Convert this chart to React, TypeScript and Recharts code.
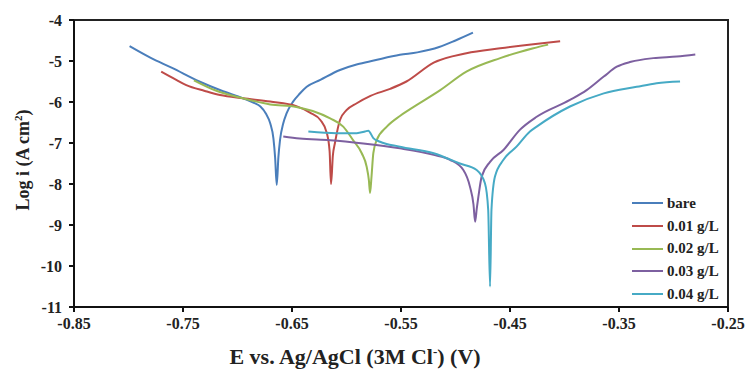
import React from "react";
import {
  LineChart, Line, XAxis, YAxis, Label, ReferenceArea,
} from "recharts";

// potential (V vs Ag/AgCl) and log current density for each coating
const bareE = [-0.799, -0.78, -0.76, -0.735, -0.715, -0.695, -0.685, -0.679, -0.674, -0.67, -0.667, -0.6655, -0.664, -0.6625, -0.661, -0.658, -0.655, -0.649, -0.643, -0.6365, -0.624, -0.606, -0.59, -0.575, -0.551, -0.535, -0.515, -0.5, -0.484];
const bareLogI = [-4.64, -4.92, -5.17, -5.5, -5.72, -5.91, -6.02, -6.11, -6.28, -6.52, -6.9, -7.35, -8.02, -7.35, -6.93, -6.52, -6.28, -5.99, -5.8, -5.63, -5.46, -5.22, -5.08, -4.99, -4.85, -4.79, -4.66, -4.5, -4.31];

const c01E = [-0.77, -0.757, -0.747, -0.73, -0.716, -0.695, -0.67, -0.646, -0.6335, -0.624, -0.618, -0.6155, -0.6142, -0.6125, -0.6106, -0.606, -0.6, -0.5906, -0.578, -0.56, -0.545, -0.52, -0.49, -0.459, -0.4286, -0.404];
const c01LogI = [-5.26, -5.45, -5.59, -5.73, -5.83, -5.91, -5.99, -6.1, -6.26, -6.44, -6.76, -7.2, -8.0, -7.3, -7.0, -6.44, -6.2, -6.03, -5.85, -5.68, -5.5, -5.04, -4.81, -4.69, -4.59, -4.52];

const c02E = [-0.74, -0.72, -0.695, -0.67, -0.646, -0.631, -0.615, -0.603, -0.594, -0.586, -0.5815, -0.5795, -0.5784, -0.577, -0.5754, -0.5723, -0.563, -0.551, -0.542, -0.514, -0.49, -0.459, -0.4286, -0.415];
const c02LogI = [-5.47, -5.72, -5.91, -6.06, -6.12, -6.22, -6.4, -6.6, -6.93, -7.25, -7.58, -7.9, -8.22, -7.8, -7.25, -6.93, -6.6, -6.34, -6.18, -5.71, -5.26, -4.93, -4.69, -4.6];

const c03E = [-0.658, -0.643, -0.615, -0.5846, -0.551, -0.52, -0.505, -0.4928, -0.4867, -0.4835, -0.482, -0.4805, -0.479, -0.476, -0.4683, -0.456, -0.441, -0.4255, -0.395, -0.3797, -0.364, -0.352, -0.339, -0.3185, -0.297, -0.28];
const c03LogI = [-6.84, -6.89, -6.93, -7.01, -7.13, -7.29, -7.41, -7.66, -8.07, -8.5, -8.92, -8.6, -8.31, -7.82, -7.46, -7.17, -6.68, -6.36, -5.95, -5.71, -5.38, -5.14, -5.02, -4.93, -4.89, -4.84];

const c04E = [-0.635, -0.609, -0.5906, -0.583, -0.58, -0.5754, -0.5693, -0.551, -0.52, -0.496, -0.4806, -0.473, -0.47, -0.4683, -0.467, -0.4638, -0.456, -0.444, -0.4317, -0.4255, -0.395, -0.364, -0.3338, -0.3155, -0.294];
const c04LogI = [-6.72, -6.76, -6.76, -6.72, -6.7, -6.88, -6.97, -7.09, -7.25, -7.5, -7.66, -7.98, -8.63, -10.5, -8.63, -7.82, -7.41, -7.09, -6.72, -6.6, -6.11, -5.79, -5.63, -5.54, -5.5];

const xTicks = [-0.85, -0.75, -0.65, -0.55, -0.45, -0.35, -0.25];
const yTicks = [-11, -10, -9, -8, -7, -6, -5, -4];

const toPoints = (e: number[], logI: number[]) => e.map((x, i) => ({ x, y: logI[i] }));

const SERIES = [
  { name: "bare", color: "#4a7ebb", data: toPoints(bareE, bareLogI) },
  { name: "0.01 g/L", color: "#be4b48", data: toPoints(c01E, c01LogI) },
  { name: "0.02 g/L", color: "#98b954", data: toPoints(c02E, c02LogI) },
  { name: "0.03 g/L", color: "#7d60a0", data: toPoints(c03E, c03LogI) },
  { name: "0.04 g/L", color: "#46aac5", data: toPoints(c04E, c04LogI) },
];

const FONT = "'Liberation Serif', 'Times New Roman', serif";

function LegendBox() {
  return (
    <div
      style={{
        position: "absolute", left: 632, top: 192,
        fontFamily: FONT, fontWeight: "bold", fontSize: 15, color: "#222",
      }}
    >
      {SERIES.map((s) => (
        <div key={s.name} style={{ display: "flex", alignItems: "center", height: 22.7 }}>
          <span style={{ width: 31, height: 2, background: s.color, marginRight: 4 }} />
          <span>{s.name}</span>
        </div>
      ))}
    </div>
  );
}

export default function App() {
  const tickStyle = { fill: "#222", fontSize: 16, fontWeight: "bold", fontFamily: FONT };
  return (
    <div style={{ position: "absolute", left: 0, top: 0, width: 747, height: 371, background: "#fff" }}>
      <LineChart width={747} height={371} margin={{ top: 20, right: 19, left: 0, bottom: 0 }}>
        <XAxis
          type="number"
          dataKey="x"
          domain={[-0.85, -0.25]}
          ticks={xTicks}
          tickFormatter={(v: number) => v.toFixed(2)}
          allowDataOverflow
          height={64}
          tick={tickStyle}
          tickSize={5}
          tickMargin={6}
          axisLine={{ stroke: "#111", strokeWidth: 2 }}
          tickLine={{ stroke: "#111", strokeWidth: 2 }}
        >
          <Label
            content={() => (
              <text x={355} y={364} textAnchor="middle" fontFamily={FONT} fontWeight="bold" fontSize={22} fill="#222">
                E vs. Ag/AgCl (3M Cl<tspan dy={-8} fontSize={13}>-</tspan><tspan dy={8}>) (V)</tspan>
              </text>
            )}
          />
        </XAxis>
        <YAxis
          type="number"
          domain={[-11, -4]}
          ticks={yTicks}
          allowDataOverflow
          width={74}
          tick={tickStyle}
          tickSize={5}
          tickMargin={7}
          axisLine={{ stroke: "#111", strokeWidth: 2 }}
          tickLine={{ stroke: "#111", strokeWidth: 2 }}
        >
          <Label
            content={() => (
              <text x={29} y={160} transform="rotate(-90 29 160)" textAnchor="middle" fontFamily={FONT} fontWeight="bold" fontSize={18} fill="#222">
                Log i (A cm<tspan dy={-7} fontSize={11}>2</tspan><tspan dy={7}>)</tspan>
              </text>
            )}
          />
        </YAxis>
        <ReferenceArea
          x1={-0.85}
          x2={-0.25}
          y1={-11}
          y2={-4}
          fill="none"
          stroke="#222"
          strokeWidth={2}
          ifOverflow="visible"
        />
        {SERIES.map((s) => (
          <Line
            key={s.name}
            data={s.data}
            dataKey="y"
            name={s.name}
            type="monotone"
            stroke={s.color}
            strokeWidth={2}
            dot={false}
            activeDot={false}
            isAnimationActive={false}
          />
        ))}
      </LineChart>
      <LegendBox />
    </div>
  );
}
